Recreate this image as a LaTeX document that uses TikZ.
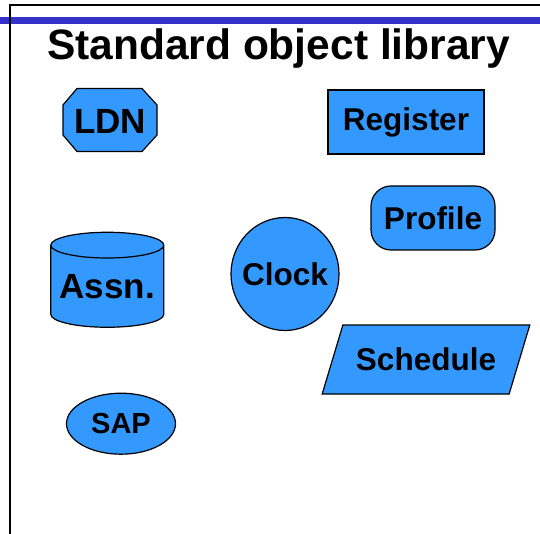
\documentclass[tikz,border=0pt]{standalone}
\usepackage{fontspec}
\setmainfont{Liberation Sans}
\usetikzlibrary{shapes.geometric,shapes.misc}

\definecolor{objblue}{RGB}{51,153,255}
\definecolor{objlight}{RGB}{136,192,255}
\definecolor{barblue}{RGB}{51,51,204}

\begin{document}
\begin{tikzpicture}[x=1pt,y=-1pt]
  \useasboundingbox (0,0) rectangle (540,534);

  % slide frame
  \draw[barblue, line width=7pt] (0,21) -- (540,21);
  \draw[line width=2.5pt] (540,5) -- (10,5) -- (10,534);

  \node[anchor=base, font=\bfseries\fontsize{42.5}{48}\selectfont] (title) at (278.5,59.5) {Standard object library};

  % octagon outline for LDN
  \draw[fill=objblue, line width=1.2pt] (63,105) -- (77,88.5) -- (142,88.5) -- (157,105)
    -- (157,135) -- (142,151.5) -- (77,151.5) -- (63,135) -- cycle;

  \begin{scope}[every node/.style={draw, fill=objblue, line width=1.2pt, inner sep=0pt,
      font=\bfseries\fontsize{31.5}{36}\selectfont}]
    \node[draw=none, fill=none, font=\bfseries\fontsize{35}{40}\selectfont] (ldn) at (110,121) {LDN};
    \node[rectangle, minimum width=156pt, minimum height=64pt] (register) at (406,122) {Register};
    \node[rectangle, rounded corners=20pt, minimum width=124pt, minimum height=64pt] (profile) at (433,218) {Profile};
    \node[ellipse, minimum width=108pt, minimum height=113pt] (clock) at (285,274) {\makebox[0pt]{Clock}};
    \node[trapezium, trapezium left angle=53, trapezium right angle=127, trapezium stretches=true,
      minimum width=208pt, minimum height=69pt] (schedule) at (426,359.5) {Schedule};
    \node[cylinder, shape border rotate=90, aspect=0.27, cylinder uses custom fill,
      cylinder body fill=objblue, cylinder end fill=objlight,
      minimum width=113pt, minimum height=95pt, font=\bfseries\fontsize{35}{40}\selectfont] (assn) at (107.3,286.5) {Assn.};
    \node[ellipse, minimum width=109pt, minimum height=61pt, font=\bfseries\fontsize{29}{34}\selectfont] (sap) at (121,423.7) {SAP};
  \end{scope}

\end{tikzpicture}
\end{document}
